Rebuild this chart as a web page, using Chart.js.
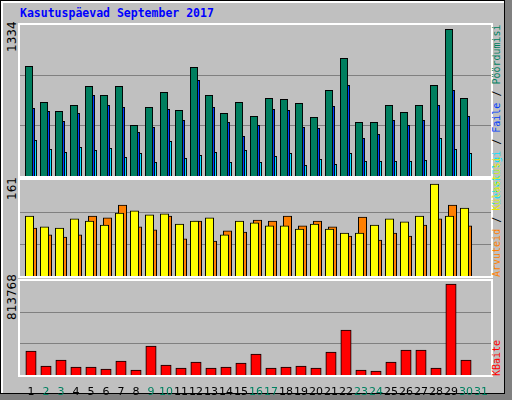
<!DOCTYPE html>
<html><head><meta charset="utf-8">
<script src="https://cdn.jsdelivr.net/npm/chart.js@4/dist/chart.umd.min.js"></script>
<style>
body{margin:0;background:#fff}
#outer{position:absolute;left:0;top:0;width:512px;height:400px;background:#808080}
#inner{position:absolute;left:0;top:0;width:503px;height:392px;background:#c0c0c0;border:1px solid #000;box-shadow:inset 2px 2px 0 #fff}
.frame{position:absolute;border:2px solid #fff;box-sizing:content-box}
canvas{position:absolute}
.t{position:absolute;white-space:nowrap}
.rot{position:absolute;transform-origin:0 0;transform:rotate(-90deg);white-space:nowrap}
</style></head><body>
<div id="outer"><div id="inner"></div></div>
<div class="t" style="left:20px;top:6px;font:bold 11.5px 'DejaVu Sans Mono';color:#0000ff">Kasutuspäevad September 2017</div>
<div class="frame" style="left:18px;top:23px;width:471px;height:151px"></div>
<div class="frame" style="left:18px;top:178px;width:471px;height:96px"></div>
<div class="frame" style="left:18px;top:279px;width:471px;height:94px"></div>
<div class="rot" style="left:5px;top:52px;font:12px 'DejaVu Sans'">1334</div>
<div class="rot" style="left:5px;top:200px;font:12px 'DejaVu Sans'">161</div>
<div class="rot" style="left:5px;top:320px;font:12px 'DejaVu Sans'">813768</div>
<div class="rot" style="left:491px;top:205px;font:10px 'DejaVu Sans Mono'"><span style="color:#00e0ff">Lehekülgi</span><span style="color:#000"> / </span><span style="color:#0040ff">Faile</span><span style="color:#000"> / </span><span style="color:#008060">Pöördumisi</span></div>
<div class="rot" style="left:491px;top:277px;font:10px 'DejaVu Sans Mono'"><span style="color:#ff8000">Arvuteid</span><span style="color:#000"> / </span><span style="color:#e8e800">Külastusi</span></div>
<div class="rot" style="left:491px;top:376px;font:10px 'DejaVu Sans Mono';color:#ff0000">KBaite</div>
<canvas id="c1" style="left:20px;top:25px;width:471px;height:151px"></canvas>
<canvas id="c2" style="left:20px;top:180px;width:471px;height:96px"></canvas>
<canvas id="c3" style="left:20px;top:281px;width:471px;height:114px"></canvas>
<script>
const days = Array.from({length:31},(_,i)=>i+1);
const weekendDays = [2,3,9,10,16,17,23,24,30,31];
const hits  = [997,670,588,643,815,734,815,461,625,761,597,988,734,570,670,543,706,697,661,534,779,1070,488,488,643,579,643,824,1334,706];
const files = [615,588,497,570,734,643,625,397,443,606,506,870,625,488,361,461,606,597,443,434,634,824,343,379,506,461,506,643,779,543];
const pages = [325,243,215,261,234,252,170,206,125,315,161,188,215,125,234,125,179,206,97,152,106,206,134,134,134,134,143,343,243,206];
const visits= [105,86,84,100,96,89,110,114,107,109,91,96,102,72,96,93,88,88,82,91,82,75,75,89,100,95,105,161,105,119];
const hosts = [84,72,68,72,105,102,124,86,81,105,65,96,61,79,77,98,96,105,88,96,86,70,103,63,75,70,89,100,124,88];
const kbytes= [214634,80487,134145,71544,71544,53658,125202,44715,259347,89430,62601,116259,62601,71544,107316,187803,62601,71544,80487,62601,205689,402435,44715,35772,116259,223575,223575,62601,813768,134145];

const XMIN=0.267, XMAX=31.667;
const pts = a => a.map((v,i)=>({x:days[i],y:v}));
function xa(shift,show){
  return {type:'linear',min:XMIN-shift,max:XMAX-shift,offset:false,display:show,
    grid:{display:false,offset:false},border:{display:false},
    afterBuildTicks:s=>{s.ticks=days.map(v=>({value:v}));},
    afterFit:s=>{if(show) s.height=20;},
    ticks:{autoSkip:false,maxRotation:0,padding:3,font:{family:'DejaVu Sans',size:11},
      color:c=>weekendDays.includes(c.tick.value)?'#008060':'#000',callback:v=>String(v)}};
}
function ya(max){
  return {min:0,max:max,display:true,border:{display:false},
    grid:{color:'#808080',lineWidth:1,drawTicks:false},
    ticks:{display:false},
    afterBuildTicks:s=>{s.ticks=[{value:max/3},{value:2*max/3}];},
    afterFit:s=>{s.width=0;}};
}
function ds(data,color,axis,w){
  return {data:pts(data),backgroundColor:color,borderColor:'#000',borderWidth:1,xAxisID:axis,barThickness:w,grouped:false};
}
const common={animation:false,responsive:false,devicePixelRatio:1,
  layout:{padding:0},plugins:{legend:{display:false},tooltip:{enabled:false}}};
function mk(id,w,h,datasets,scales){
  const c=document.getElementById(id);c.width=w;c.height=h;
  new Chart(c,{type:'bar',data:{datasets},options:Object.assign({},common,{scales})});
}
mk('c1',471,151,[ds(hits,'#007f5f','xg',7.5),ds(files,'#0040ff','xb',7.5),ds(pages,'#00e0ff','xc',7.5)],
  {xg:xa(-0.133,false),xb:xa(0,false),xc:xa(0.133,false),y:ya(1373)});
mk('c2',471,96,[ds(visits,'#ffff00','xy',8.4),ds(hosts,'#ff8000','xo',8.4)],
  {xy:xa(-0.1,false),xo:xa(0.1,false),y:ya(168)});
mk('c3',471,114,[ds(kbytes,'#ff0000','x',10.4)],
  {x:xa(0,true),y:ya(840600)});
</script>
</body></html>
